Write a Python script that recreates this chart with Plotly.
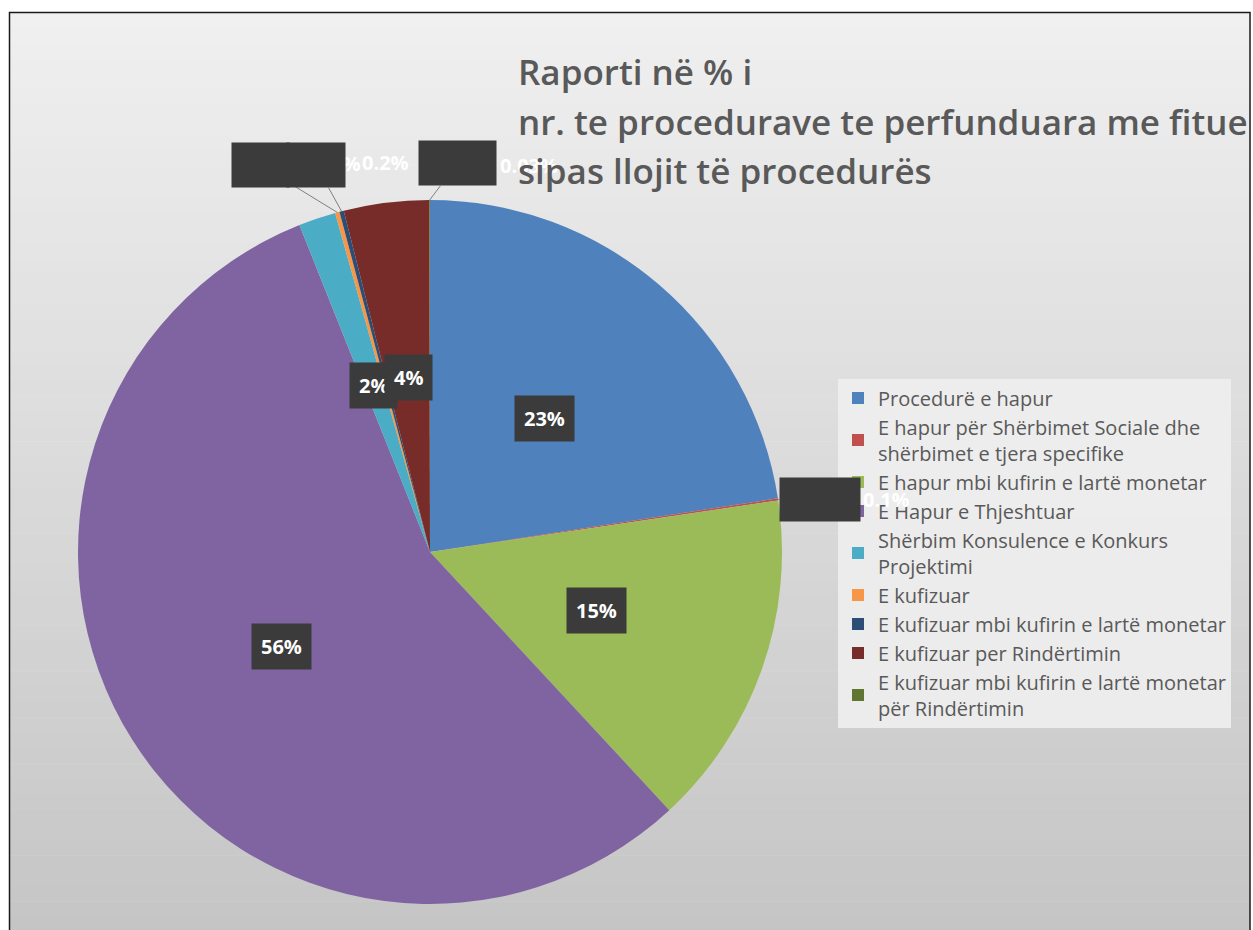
import math
import plotly.graph_objects as go

# ---------------- data ----------------
labels = [
    "Procedurë e hapur",
    "E hapur për Shërbimet Sociale dhe<br>shërbimet e tjera specifike",
    "E hapur mbi kufirin e lartë monetar",
    "E Hapur e Thjeshtuar",
    "Shërbim Konsulence e Konkurs<br>Projektimi",
    "E kufizuar",
    "E kufizuar mbi kufirin e lartë monetar",
    "E kufizuar per Rindërtimin",
    "E kufizuar mbi kufirin e lartë monetar<br>për Rindërtimin",
]
values = [22.5, 0.1, 15.4, 55.7, 1.7, 0.2, 0.2, 3.9, 0.03]
pct_labels = ["23%", "0.1%", "15%", "56%", "2%", "0.2%", "0.2%", "4%", "0.03%"]
colors = ["#4F81BD", "#C0504D", "#9BBB59", "#8064A2", "#4BACC6",
          "#F79646", "#2C4D75", "#772C2A", "#5F7530"]
title_lines = [
    "Raporti në % i",
    "nr. te procedurave te perfunduara me fitue",
    "sipas llojit të procedurës",
]

# ---------------- geometry ----------------
W, H = 1253, 930
CX, CY, R = 430, 552, 352


def px(x):
    return x / W


def py(y):
    return 1 - y / H


total = sum(values)
cum = []
acc = 0.0
for v in values:
    cum.append(acc)
    acc += v


def slice_xy(i, rfrac):
    frac = (cum[i] + values[i] / 2) / total
    ang = 2 * math.pi * frac
    x = CX + rfrac * R * math.sin(ang)
    y = CY - rfrac * R * math.cos(ang)
    return x, y


fig = go.Figure()
fig.add_trace(go.Pie(
    labels=labels,
    values=values,
    sort=False,
    direction="clockwise",
    rotation=0,
    marker=dict(colors=colors, line=dict(width=0)),
    textinfo="none",
    hoverinfo="label+percent",
    domain=dict(x=[px(CX - R), px(CX + R)], y=[py(CY + R), py(CY - R)]),
))

# ---------------- background gradient + frame ----------------
shapes = []
top, bottom = 12, 932
N = 60
c0, c1 = 240, 197
for k in range(N):
    y0 = top + (bottom - top) * k / N
    y1 = top + (bottom - top) * (k + 1) / N + 0.5
    c = round(c0 + (c1 - c0) * (k + 0.5) / N)
    shapes.append(dict(type="rect", xref="paper", yref="paper",
                       x0=px(9), x1=px(1250), y0=py(y1), y1=py(y0),
                       fillcolor=f"rgb({c},{c},{c})", line=dict(width=0),
                       layer="below"))
shapes.append(dict(type="rect", xref="paper", yref="paper",
                   x0=px(9.5), x1=px(1250), y0=py(bottom), y1=py(12.5),
                   fillcolor="rgba(0,0,0,0)", line=dict(color="#1a1a1a", width=1.5),
                   layer="below"))

# ---------------- annotations ----------------
ann = []
BOX = "#3b3b3b"
LBL_FONT = dict(family="Open Sans", size=20, color="white", weight="bold")

# stray white label texts (drawn first so boxes cover them)
x5, y5 = slice_xy(5, 1.0)
x6, y6 = slice_xy(6, 1.0)
x1, y1 = slice_xy(1, 1.0)
x8, y8 = slice_xy(8, 1.0)
for (tx, ty, t) in [(x5, y5 - 49, pct_labels[5]),
                    (x6 + 44, y6 - 49, pct_labels[6]),
                    (x8 + 99, y8 - 35, pct_labels[8]),
                    (x1 + 108, y1, pct_labels[1])]:
    ann.append(dict(x=px(tx), y=py(ty), xref="paper", yref="paper",
                    text=t, showarrow=False, font=LBL_FONT,
                    xanchor="center", yanchor="middle"))

# empty dark boxes with leader lines
LEAD = dict(showarrow=True, arrowhead=0, arrowwidth=1, arrowcolor="#7f7f7f",
            standoff=0, startstandoff=0, text=" ", bgcolor=BOX,
            borderpad=0, xref="paper", yref="paper")
ann.append(dict(x=px(x5), y=py(y5), ax=260 - x5, ay=165 - y5, width=57, height=44, **LEAD))
ann.append(dict(x=px(x6), y=py(y6), ax=316 - x6, ay=165 - y6, width=58, height=44, **LEAD))
ann.append(dict(x=px(x8), y=py(y8), ax=28, ay=-37, width=77, height=44, **LEAD))
ann.append(dict(x=px(x1), y=py(y1), ax=42, ay=0, width=80, height=43, **LEAD))

# inside labels
for i, v in enumerate(values):
    if v / total >= 0.01:
        lx, ly = slice_xy(i, 0.5)
        ann.append(dict(x=px(lx), y=py(ly), xref="paper", yref="paper",
                        text=pct_labels[i], showarrow=False, font=LBL_FONT,
                        bgcolor=BOX, borderpad=9,
                        xanchor="center", yanchor="middle"))

# title
for k, line in enumerate(title_lines):
    ann.append(dict(x=px(516), y=py(72 + 49 * k), xref="paper", yref="paper",
                    text=line, showarrow=False,
                    font=dict(family="Open Sans", size=35, color="#595959", weight=600),
                    xanchor="left", yanchor="middle"))

fig.update_layout(
    width=W, height=H, autosize=False,
    margin=dict(l=0, r=0, t=0, b=0),
    paper_bgcolor="white",
    plot_bgcolor="white",
    shapes=shapes,
    annotations=ann,
    showlegend=True,
    legend=dict(
        x=px(838), y=py(553), xanchor="left", yanchor="middle",
        bgcolor="rgba(238,238,238,0.9)",
        font=dict(family="Open Sans", size=20, color="#595959"),
        traceorder="normal",
    ),
)

fig.write_html("out.html",
               config={"displayModeBar": False},
               post_script="document.body.style.margin='0';document.body.style.overflow='hidden';")
